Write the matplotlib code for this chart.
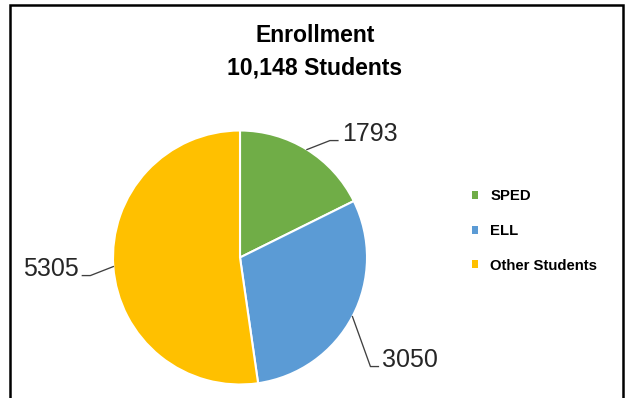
import numpy as np
import matplotlib.pyplot as plt
from matplotlib.patches import Patch, Rectangle

plt.rcParams['font.family'] = 'Liberation Sans'

groups = ['SPED', 'ELL', 'Other Students']
counts = [1793, 3050, 5305]
colors = ['#70AD47', '#5B9BD5', '#FFC000']

total = sum(counts)

W, H = 627, 398
fig = plt.figure(figsize=(W / 100, H / 100), dpi=100)

# pie centre / radius in pixels, axes is a square box around it
cx, cy, r = 240, 257.5, 127
pad = 130
ax = fig.add_axes([(cx - pad) / W, (H - cy - pad) / H, 2 * pad / W, 2 * pad / H])
wedges, _ = ax.pie(counts, colors=colors, startangle=90, counterclock=False,
                   radius=1, wedgeprops=dict(edgecolor='white', linewidth=1.5))
lim = pad / r
ax.set_xlim(-lim, lim)
ax.set_ylim(-lim, lim)
ax.axis('off')

# leader lines: elbow offset from slice edge (px), which side the label sits
leaders = [(23, 9, 1), (18, -50, 1), (-23, -9, -1)]
px = 1 / r
for w, n, (dx, dy, side) in zip(wedges, counts, leaders):
    ang = np.deg2rad((w.theta1 + w.theta2) / 2)
    x0, y0 = np.cos(ang), np.sin(ang)
    x1, y1 = x0 + dx * px, y0 + dy * px
    x2 = x1 + side * 8 * px
    ax.plot([x0, x1, x2], [y0, y1, y1], color='#404040', lw=0.95, clip_on=False)
    ax.text(x2 + side * 4 * px, y1, str(n), ha='left' if side > 0 else 'right',
            va='baseline', fontsize=18, color='#262626')

fig.text(315 / W, 1 - 42 / H, 'Enrollment', ha='center', va='baseline',
         fontsize=16.6, fontweight='bold')
fig.text(315 / W, 1 - 75 / H, f'{total:,} Students', ha='center', va='baseline',
         fontsize=16.6, fontweight='bold')

handles = [Patch(facecolor=c) for c in colors]
fig.legend(handles, groups, loc='center left', bbox_to_anchor=(472 / W, 1 - 231 / H),
           frameon=False, prop=dict(weight='bold', size=10.7),
           handlelength=0.42, handleheight=0.42, handletextpad=0.8,
           labelspacing=1.38, borderpad=0, borderaxespad=0)

# chart border, open at the bottom edge
fig.add_artist(Rectangle((10 / W, -0.1), (622.5 - 10) / W, 1 - 5.5 / H + 0.1,
                         transform=fig.transFigure, fill=False,
                         edgecolor='black', lw=1.8))

fig.savefig('out.png', dpi=100)
